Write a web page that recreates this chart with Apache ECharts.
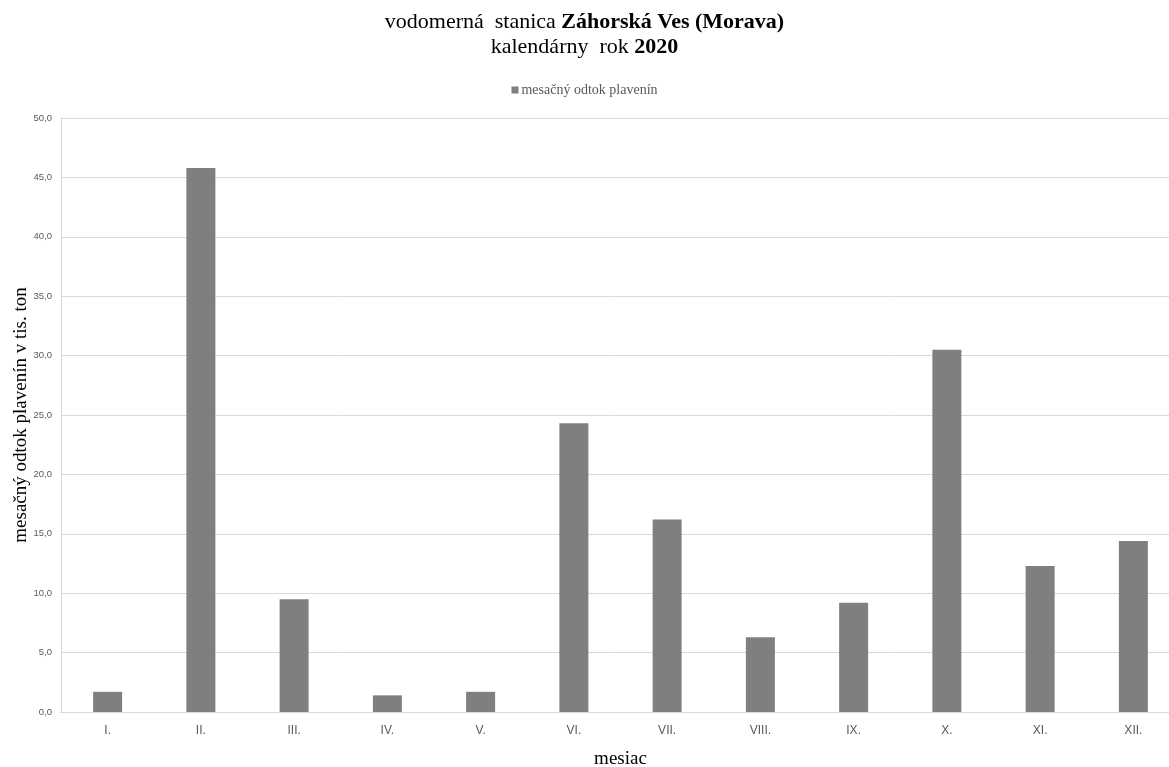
<!DOCTYPE html>
<html><head><meta charset="utf-8">
<script src="https://cdn.jsdelivr.net/npm/echarts@6/dist/echarts.min.js"></script>
<style>html,body{margin:0;padding:0;background:#fff}#c{width:1169px;height:767px}</style>
</head><body><div id="c"></div>
<script>
const months = ['I.','II.','III.','IV.','V.','VI.','VII.','VIII.','IX.','X.','XI.','XII.'];
const odtok = [1.7, 45.8, 9.5, 1.4, 1.7, 24.3, 16.2, 6.3, 9.2, 30.5, 12.3, 14.4];
const seriesName = 'mesačný odtok plavenín';

const chart = echarts.init(document.getElementById('c'));
chart.setOption({
  animation: false,
  backgroundColor: '#fff',
  title: {
    left: 'center', top: 5,
    text: '{n|vodomerná  stanica }{b|Záhorská Ves (Morava)}\n{n|kalendárny  rok }{b|2020}',
    textStyle: {
      fontWeight: 'normal', fontFamily: 'Liberation Serif', fontSize: 22,
      rich: {
        n: {fontFamily: 'Liberation Serif', fontSize: 22, fontWeight: 'normal', color: '#000', lineHeight: 25},
        b: {fontFamily: 'Liberation Serif', fontSize: 22, fontWeight: 'bold', color: '#000', lineHeight: 25}
      }
    }
  },
  legend: {
    top: 78, left: 'center',
    icon: 'rect', itemWidth: 7, itemHeight: 7, itemGap: 4,
    textStyle: {fontFamily: 'Liberation Serif', fontSize: 14, color: '#595959', padding: [0,0,0,-2]},
    data: [seriesName]
  },
  grid: {left: 61, right: -11, top: 118, bottom: 55, containLabel: false, outerBoundsMode: 'none'},
  xAxis: {
    type: 'category', data: months,
    name: 'mesiac', nameLocation: 'middle', nameGap: 38, nameMoveOverlap: false,
    nameTextStyle: {fontFamily: 'Liberation Serif', fontSize: 19, color: '#000'},
    axisLine: {lineStyle: {color: '#d9d9d9'}},
    axisTick: {show: false},
    axisLabel: {fontFamily: 'Liberation Sans', fontSize: 12, color: '#595959', margin: 13}
  },
  yAxis: {
    type: 'value', min: 0, max: 50, interval: 5,
    name: 'mesačný odtok plavenín v tis. ton', nameLocation: 'middle', nameGap: 30, nameMoveOverlap: false,
    nameTextStyle: {fontFamily: 'Liberation Serif', fontSize: 19, color: '#000'},
    axisLine: {show: true, lineStyle: {color: '#d9d9d9'}},
    axisTick: {show: false},
    splitLine: {lineStyle: {color: '#d9d9d9'}},
    axisLabel: {fontFamily: 'Liberation Sans', fontSize: 9.5, color: '#595959', margin: 9,
      formatter: v => v.toFixed(1).replace('.', ',')}
  },
  series: [{
    name: seriesName, type: 'bar', data: odtok, barWidth: 29,
    itemStyle: {color: '#7f7f7f'}
  }]
});
</script></body></html>
